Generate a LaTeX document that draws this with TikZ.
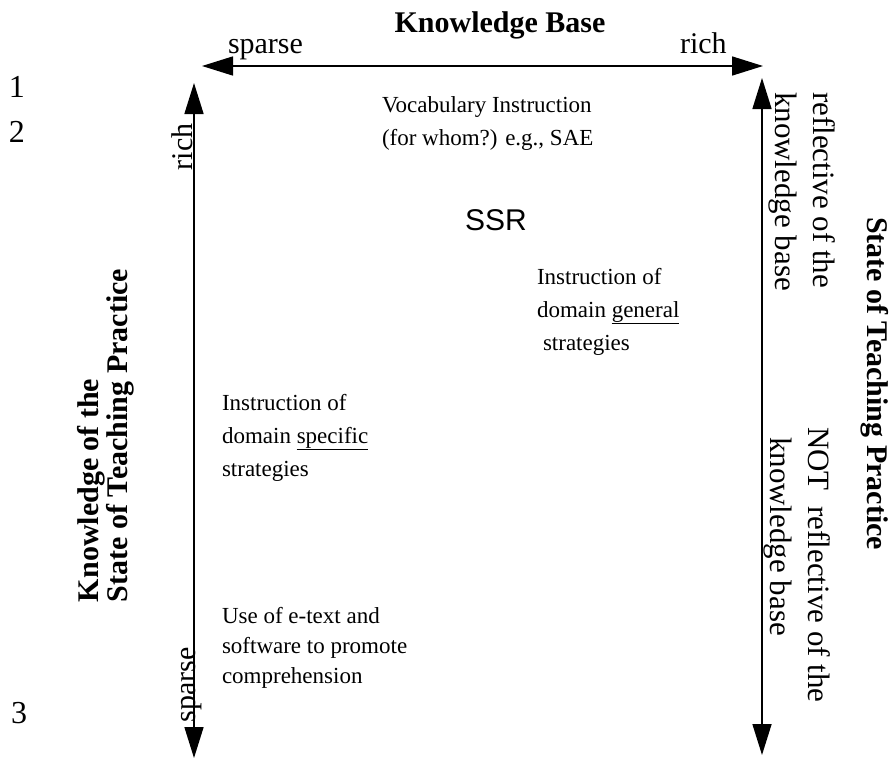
\documentclass[tikz,border=0pt]{standalone}
\usepackage{fontspec}
\setmainfont{Liberation Serif}
\newfontfamily\sansf{Liberation Sans}
\usetikzlibrary{arrows.meta}
\begin{document}
\begin{tikzpicture}[x=1pt,y=-1pt,
  every node/.style={inner sep=0pt,outer sep=0pt},
  axis/.style={line width=1.6pt,{Triangle[length=31pt,width=19pt]}-{Triangle[length=31pt,width=19pt]}},
  title/.style={font=\fontsize{30}{22}\selectfont\bfseries},
  endlbl/.style={font=\fontsize{30}{30}\selectfont},
  sidelbl/.style={font=\fontsize{31}{38}\selectfont,align=left},
  item/.style={font=\fontsize{23}{33}\selectfont,align=left,anchor=north west},
  num/.style={font=\fontsize{32}{32}\selectfont,anchor=base}]
\useasboundingbox (0,0) rectangle (893,760);
% axes
\coordinate (hl) at (202,66);
\coordinate (hr) at (763,66);
\coordinate (lt) at (194,83);
\coordinate (lb) at (194,758);
\coordinate (rt) at (762,78);
\coordinate (rb) at (762,755);
\draw[axis] (hl) -- (hr);
\draw[axis] (lb) -- (lt);
\draw[axis] (rb) -- (rt);
% top labels
\node[title,anchor=base] (kb) at (500,33) {Knowledge Base};
\node[endlbl,anchor=base west] (tsparse) at (228,53) {sparse};
\node[endlbl,anchor=base west] (trich) at (680,53) {rich};
% left axis labels
\node[endlbl,anchor=base west,rotate=90] (lrich) at (192,170) {rich};
\node[endlbl,anchor=base west,rotate=90] (lsparse) at (195,722) {sparse};
\node[title,align=left,anchor=south west,rotate=90] (ltitle) at (134,602) {Knowledge of the\\State of Teaching Practice};
% right axis labels
\node[title,anchor=base west,rotate=-90] (rtitle) at (867,217) {State of Teaching Practice};
\node[sidelbl,anchor=north west,rotate=-90] (rrefl) at (835,92) {reflective of the\\knowledge base};
\node[sidelbl,anchor=north west,rotate=-90] (rnot) at (830,427) {NOT\ \ reflective of the\\\hspace*{10pt}knowledge base};
% numbers
\node[num] (n1) at (17,97) {1};
\node[num] (n2) at (17,142) {2};
\node[num] (n3) at (19,723) {3};
% items
\node[item] (vocab) at (382,97) {Vocabulary Instruction\\(for whom?) e.g., SAE};
\node[font=\fontsize{30}{30}\sansf,anchor=base west] (ssr) at (465,230) {SSR};
\node[item] (gen) at (537,268) {Instruction of\\domain \underline{general}\\\hspace*{6pt}strategies};
\node[item] (spec) at (222,394) {Instruction of\\domain \underline{specific}\\strategies};
\node[item,font=\fontsize{23}{30}\selectfont] (etext) at (222,607) {Use of e-text and\\software to promote\\comprehension};
\end{tikzpicture}
\end{document}
